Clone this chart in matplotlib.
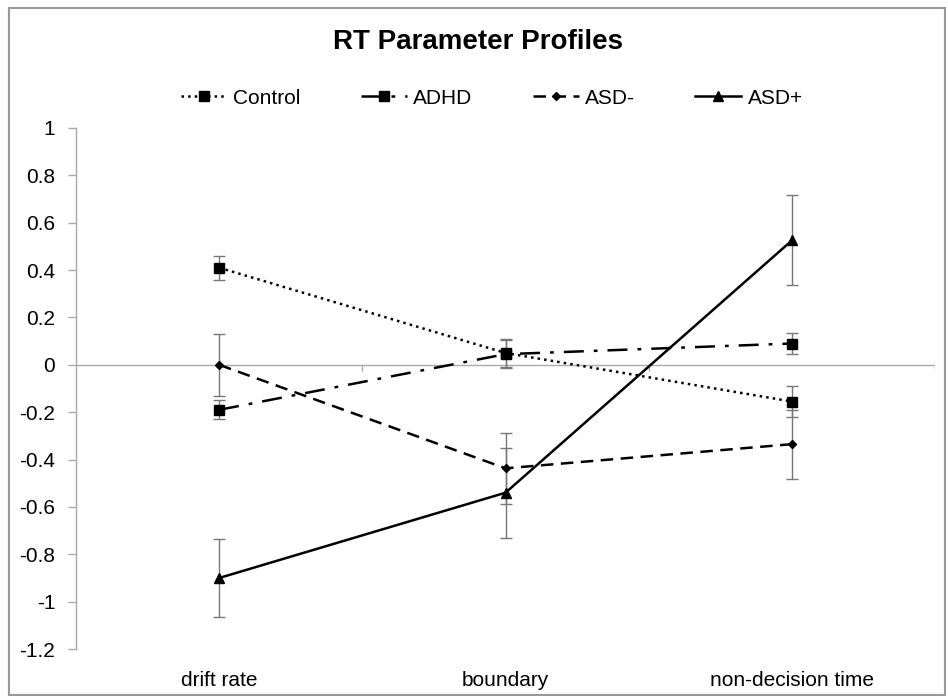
import matplotlib
matplotlib.use("Agg")
import matplotlib.pyplot as plt
from matplotlib.patches import Rectangle
import numpy as np

plt.rcParams['font.family'] = ['Liberation Sans', 'DejaVu Sans']

categories = ["drift rate", "boundary", "non-decision time"]
control = [0.41, 0.05, -0.155]
control_err = [0.05, 0.06, 0.065]
adhd = [-0.19, 0.045, 0.09]
adhd_err = [0.04, 0.06, 0.045]
asd_minus = [0.0, -0.437, -0.335]
asd_minus_err = [0.13, 0.15, 0.145]
asd_plus = [-0.9, -0.54, 0.525]
asd_plus_err = [0.165, 0.19, 0.19]
yticks = [1, 0.8, 0.6, 0.4, 0.2, 0, -0.2, -0.4, -0.6, -0.8, -1, -1.2]
ytick_labels = ["1", "0.8", "0.6", "0.4", "0.2", "0", "-0.2", "-0.4", "-0.6", "-0.8", "-1", "-1.2"]

fig = plt.figure(figsize=(9.48, 6.96), dpi=100)
ax = fig.add_axes([0.0802, 0.0675, 0.9061, 0.7486])

x = np.arange(len(categories))
series = [
    ("Control", control, control_err, ':', 's', 7),
    ("ADHD", adhd, adhd_err, (0, (8, 4, 1.5, 4)), 's', 7),
    ("ASD-", asd_minus, asd_minus_err, (0, (5, 3)), 'D', 4.5),
    ("ASD+", asd_plus, asd_plus_err, '-', '^', 7),
]
for name, vals, err, ls, mk, ms in series:
    ax.errorbar(x, vals, yerr=err, fmt='none', ecolor='#777777', elinewidth=1.0,
                capsize=4, capthick=1.0, zorder=2)
    ax.plot(x, vals, color='black', linestyle=ls, linewidth=1.8, marker=mk,
            markersize=ms, markerfacecolor='black', markeredgecolor='black',
            label=name, zorder=3)

ax.set_xlim(-0.5, len(categories) - 0.5)
ax.set_ylim(-1.2, 1.0)
ax.set_yticks(yticks)
ax.set_yticklabels(ytick_labels, fontsize=15)
ax.tick_params(axis='y', direction='out', length=6, width=1, color='#aaaaaa', pad=9)

ax.set_xticks(x)
ax.set_xticklabels(categories, fontsize=15)
ax.tick_params(axis='x', length=0, pad=16)

for s in ['top', 'right', 'bottom']:
    ax.spines[s].set_visible(False)
ax.spines['left'].set_color('#aaaaaa')
ax.spines['left'].set_linewidth(1.0)

ax.axhline(0, color='#aaaaaa', linewidth=1.0, zorder=1)
bounds = np.arange(len(categories) + 1) - 0.5
ax.vlines(bounds[1:], -0.025, 0, color='#aaaaaa', linewidth=1.0, zorder=1)

fig.text(0.504, 0.94, "RT Parameter Profiles", ha='center', va='center',
         fontsize=20, fontweight='bold')
leg = fig.legend(loc='center', bbox_to_anchor=(0.519, 0.859), ncol=4, frameon=False,
                 fontsize=15, handlelength=2.2, columnspacing=2.9, handletextpad=0.3)

fig.patches.append(Rectangle((0.009, 0.002), 0.988, 0.986, transform=fig.transFigure,
                             fill=False, edgecolor='#999999', linewidth=1.5))

fig.savefig("out.png", dpi=100)
